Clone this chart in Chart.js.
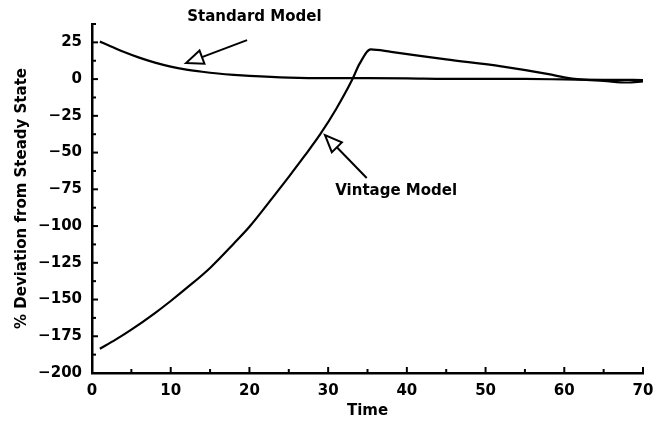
<!DOCTYPE html>
<html>
<head>
<meta charset="utf-8">
<script src="https://cdn.jsdelivr.net/npm/chart.js@4"></script>
<style>
  html, body { margin: 0; padding: 0; background: #fff; }
  #wrap { width: 656px; height: 423px; }
</style>
</head>
<body>
<div id="wrap"><canvas id="c" width="656" height="423"></canvas></div>
<script>
// ---- data ----
const standardTimes = [1, 2, 4, 6, 8, 10, 12, 14, 16, 18, 20, 25, 30, 35, 40, 45, 50, 55, 60, 65, 70];
const standardValues = [25.5, 23.2, 18.6, 14.6, 11.2, 8.5, 6.5, 5.0, 3.8, 2.9, 2.2, 1.0, 0.6, 0.6, 0.5, 0.2, 0.2, 0.1, -0.2, -0.5, -0.6];

const vintageTimes = [1, 3, 5, 8, 10, 12, 15, 18, 20, 23, 25, 27, 29, 31, 33, 34, 35.4, 38, 45, 52, 58, 60, 62, 65, 68, 70];
const vintageValues = [-183.5, -177.3, -170.5, -159.2, -151, -142.3, -128.5, -112, -100.5, -80.3, -66.5, -52.3, -37.5, -20.5, -1, 10.5, 20.2, 18.5, 13.4, 8.7, 3.4, 1.2, -0.2, -1.2, -2.3, -1.5];

const xTitle = 'Time';
const yTitle = '% Deviation from Steady State';
const xMin = 0, xMax = 70, xStep = 10;
const yMin = -200, yMax = 37.5, yStep = 25;

// annotations: label, text anchor (time, value), arrow tip and tail (time, value)
const annotationLabels = ['Standard Model', 'Vintage Model'];
const annotationText = [[12.1, 42.2], [30.9, -76.2]];
const annotationArrows = [[11.95, 10.9, 19.7, 26.5], [29.6, -38.1, 34.9, -67.3]];

const FONT = 'DejaVu Sans';

function toPoints(xs, ys) { return xs.map((x, i) => ({ x: x, y: ys[i] })); }

const inwardTicks = {
  id: 'inwardTicks',
  afterDraw(chart) {
    const { ctx, chartArea, scales } = chart;
    const xs = scales.x, ys = scales.y;
    ctx.save();
    ctx.strokeStyle = '#000';
    ctx.lineWidth = 2;
    for (let v = yMin; v <= yMax + 1e-9; v += yStep / 2) {
      const py = ys.getPixelForValue(v);
      const major = Math.abs(v % yStep) < 1e-9;
      ctx.beginPath();
      ctx.moveTo(chartArea.left, py);
      ctx.lineTo(chartArea.left + (major ? 6 : 4), py);
      ctx.stroke();
    }
    for (let v = xMin; v <= xMax + 1e-9; v += xStep / 2) {
      const px = xs.getPixelForValue(v);
      const major = Math.abs(v % xStep) < 1e-9;
      ctx.beginPath();
      ctx.moveTo(px, chartArea.bottom);
      ctx.lineTo(px, chartArea.bottom - (major ? 6 : 4));
      ctx.stroke();
    }

    // annotations
    ctx.fillStyle = '#000';
    ctx.font = 'bold 15px "' + FONT + '"';
    ctx.textAlign = 'left';
    ctx.textBaseline = 'middle';
    annotationLabels.forEach((lab, i) => {
      const [tt, tv] = annotationText[i];
      ctx.fillText(lab, xs.getPixelForValue(tt), ys.getPixelForValue(tv));
      const [at, av, bt, bv] = annotationArrows[i];
      const tx = xs.getPixelForValue(at), ty = ys.getPixelForValue(av);
      const ex = xs.getPixelForValue(bt), ey = ys.getPixelForValue(bv);
      const dx = ex - tx, dy = ey - ty;
      const len = Math.hypot(dx, dy);
      const ux = dx / len, uy = dy / len;
      const headLen = 17, half = 7;
      const bx = tx + ux * headLen, by = ty + uy * headLen;
      ctx.lineWidth = 2;
      ctx.lineJoin = 'miter';
      ctx.beginPath();
      ctx.moveTo(tx, ty);
      ctx.lineTo(bx - uy * half, by + ux * half);
      ctx.lineTo(bx + uy * half, by - ux * half);
      ctx.closePath();
      ctx.fillStyle = '#fff';
      ctx.fill();
      ctx.stroke();
      ctx.fillStyle = '#000';
      ctx.beginPath();
      ctx.moveTo(bx, by);
      ctx.lineTo(ex, ey);
      ctx.stroke();
    });
    ctx.restore();
  }
};

new Chart(document.getElementById('c'), {
  type: 'line',
  data: {
    datasets: [
      {
        label: 'Standard Model',
        data: toPoints(standardTimes, standardValues),
        borderColor: '#000',
        borderWidth: 2.2,
        pointRadius: 0,
        cubicInterpolationMode: 'monotone',
        fill: false
      },
      {
        label: 'Vintage Model',
        data: toPoints(vintageTimes, vintageValues),
        borderColor: '#000',
        borderWidth: 2.2,
        pointRadius: 0,
        cubicInterpolationMode: 'monotone',
        fill: false
      }
    ]
  },
  options: {
    responsive: false,
    animation: false,
    devicePixelRatio: 1,
    layout: { padding: { left: 0, right: 13, top: 24, bottom: 0 } },
    plugins: { legend: { display: false }, tooltip: { enabled: false } },
    scales: {
      x: {
        type: 'linear',
        min: xMin, max: xMax,
        ticks: {
          stepSize: xStep,
          color: '#000',
          padding: 9,
          maxRotation: 0,
          font: { family: FONT, size: 15, weight: 'bold' }
        },
        grid: { display: false, drawTicks: false, tickLength: 0 },
        border: { display: true, color: '#000', width: 2.5 },
        title: {
          display: true, text: xTitle, color: '#000',
          font: { family: FONT, size: 15, weight: 'bold' },
          padding: { top: 0, bottom: 3 }
        },
        afterFit(s) { s.height = 50; s.paddingRight = 0; }
      },
      y: {
        type: 'linear',
        min: yMin, max: yMax,
        ticks: {
          stepSize: yStep,
          color: '#000',
          padding: 10,
          font: { family: FONT, size: 15, weight: 'bold' },
          callback: (v) => String(v).replace('-', '\u2212')
        },
        afterBuildTicks(s) { s.ticks = s.ticks.filter(t => Math.abs(t.value % yStep) < 1e-9); },
        grid: { display: false, drawTicks: false, tickLength: 0 },
        border: { display: true, color: '#000', width: 2.5 },
        title: {
          display: true, text: yTitle, color: '#000',
          font: { family: FONT, size: 15, weight: 'bold' },
          padding: { top: 13, bottom: 0 }
        },
        afterFit(s) { s.width = 92; }
      }
    }
  },
  plugins: [inwardTicks]
});
</script>
</body>
</html>
